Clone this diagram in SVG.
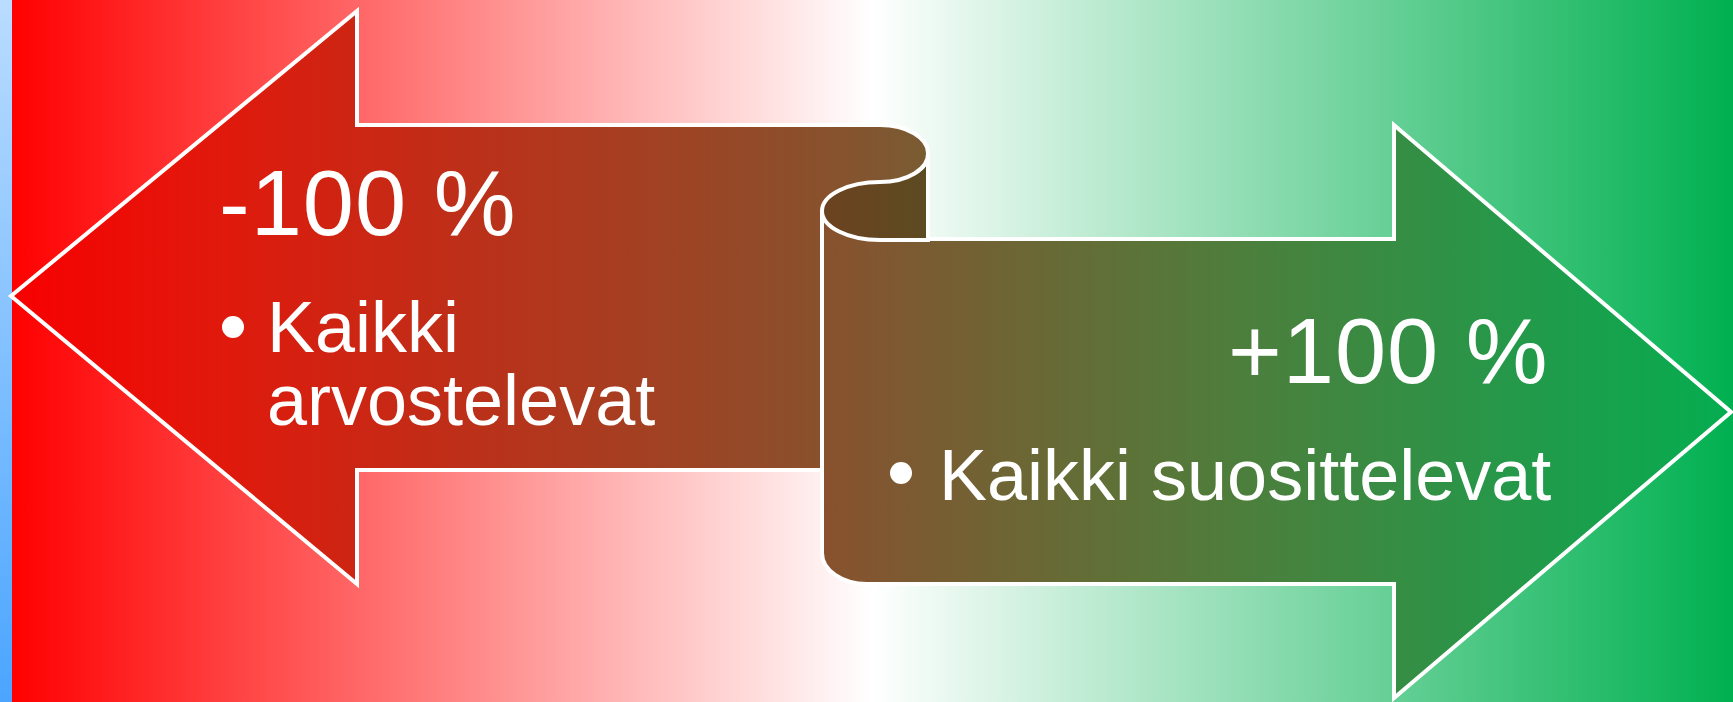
<svg xmlns="http://www.w3.org/2000/svg" width="1733" height="702" viewBox="0 0 1733 702">
  <defs>
    <linearGradient id="bg" gradientUnits="userSpaceOnUse" x1="12" y1="0" x2="1733" y2="0">
      <stop offset="0" stop-color="#FF0000"/>
      <stop offset="0.5" stop-color="#FFFFFF"/>
      <stop offset="1" stop-color="#00B050"/>
    </linearGradient>
    <linearGradient id="strip" x1="0" y1="0" x2="0" y2="1">
      <stop offset="0" stop-color="#BADCFF"/>
      <stop offset="1" stop-color="#4BA5FF"/>
    </linearGradient>
    <linearGradient id="fillg" gradientUnits="userSpaceOnUse" x1="12" y1="0" x2="1733" y2="0">
      <stop offset="0" stop-color="#F70000"/>
      <stop offset="0.109" stop-color="#E3170B"/>
      <stop offset="0.4" stop-color="#9B4525"/>
      <stop offset="0.5" stop-color="#815630"/>
      <stop offset="0.69" stop-color="#537A3A"/>
      <stop offset="0.894" stop-color="#1F9C4B"/>
      <stop offset="1" stop-color="#05AD50"/>
    </linearGradient>
    <linearGradient id="darkg" gradientUnits="userSpaceOnUse" x1="822" y1="0" x2="928" y2="0">
      <stop offset="0" stop-color="#6C4220"/>
      <stop offset="1" stop-color="#5C4B22"/>
    </linearGradient>
  </defs>
  <style>
    .shape { stroke: #FFFFFF; stroke-width: 4; stroke-linejoin: miter; }
    .edge { fill: none; stroke: #FFFFFF; stroke-width: 4; }
    .big { font-family: "Liberation Sans", Arial, sans-serif; font-size: 92px; fill: #FFFFFF; }
    .item { font-family: "Liberation Sans", Arial, sans-serif; font-size: 72px; fill: #FFFFFF; }
    .bullet { fill: #FFFFFF; }
  </style>

  <g id="background">
    <rect x="0" y="0" width="1733" height="702" fill="url(#bg)"/>
    <rect x="0" y="0" width="12" height="702" fill="url(#strip)"/>
  </g>

  <g id="scroll-arrows">
    <path class="shape" fill="url(#fillg)" d="M 11,296 L 357,11 L 357,125 L 880,125 A 48,28 0 0 1 928,153 L 928,239 L 1394,239 L 1394,125 L 1731,412 L 1394,698 L 1394,584 L 867,584 A 45,31 0 0 1 822,553 L 822,470 L 357,470 L 357,584 Z"/>
    <path class="shape" fill="url(#darkg)" d="M 928,153 A 48,28 0 0 1 880,182 A 58,29 0 0 0 822,211 A 58,29 0 0 0 880,240 L 928,240 Z"/>
  </g>

  <g id="connectors">
    <path class="edge" d="M 822,211 L 822,472"/>
  </g>

  <g id="label-negative">
    <text class="big" x="219" y="235" letter-spacing="1">-100 %</text>
    <circle class="bullet" cx="233" cy="327" r="11"/>
    <text class="item" x="267" y="352">Kaikki</text>
    <text class="item" x="267" y="425">arvostelevat</text>
  </g>

  <g id="label-positive">
    <text class="big" x="1228" y="383" letter-spacing="1">+100 %</text>
    <circle class="bullet" cx="901" cy="473" r="11"/>
    <text class="item" x="939" y="500">Kaikki suosittelevat</text>
  </g>
</svg>
